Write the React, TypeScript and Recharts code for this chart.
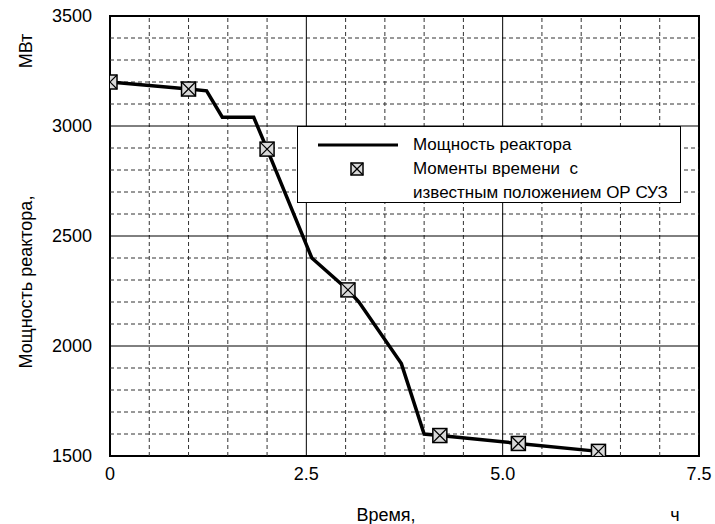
import React from 'react';
import {
  ComposedChart,
  Line,
  Scatter,
  XAxis,
  YAxis,
  ReferenceLine,
  ReferenceArea,
  Legend,
  Customized,
} from 'recharts';

// reactor power curve, time in hours / MW
const powerTime = [0, 1.0, 1.23, 1.43, 1.83, 2.0, 2.57, 3.03, 3.17, 3.71, 4.0, 4.2, 5.2, 6.22];
const powerValue = [3200, 3168, 3160, 3040, 3040, 2895, 2400, 2255, 2200, 1920, 1600, 1593, 1557, 1521];

// moments with known control rod position
const markTime = [0, 1.0, 2.0, 3.03, 4.2, 5.2, 6.22];
const markValue = [3200, 3168, 2895, 2255, 1593, 1557, 1521];

const xTicks = [0, 2.5, 5, 7.5];
const yTicks = [1500, 2000, 2500, 3000, 3500];
const xMinor = [0.5, 1, 1.5, 2, 3, 3.5, 4, 4.5, 5.5, 6, 6.5, 7];
const xMajor = [2.5, 5];
const yMinor = [1600, 1700, 1800, 1900, 2100, 2200, 2300, 2400, 2600, 2700, 2800, 2900, 3100, 3200, 3300, 3400];
const yMajor = [2000, 2500, 3000];

const FONT = '"Liberation Sans", Arial, sans-serif';

const powerData = powerTime.map((t, i) => ({ t, p: powerValue[i] }));
const markData = markTime.map((t, i) => ({ t, p: markValue[i] }));

const BoxX = ({ cx, cy, size = 14 }: { cx: number; cy: number; size?: number }) => {
  const h = size / 2;
  return (
    <g>
      <rect x={cx - h} y={cy - h} width={size} height={size} fill="#d9d9d9" stroke="#000" strokeWidth={1.5} />
      <line x1={cx - h} y1={cy - h} x2={cx + h} y2={cy + h} stroke="#000" strokeWidth={1.2} />
      <line x1={cx - h} y1={cy + h} x2={cx + h} y2={cy - h} stroke="#000" strokeWidth={1.2} />
    </g>
  );
};

const LegendBox = () => (
  <div
    style={{
      width: 384,
      height: 77,
      boxSizing: 'border-box',
      border: '1.5px solid #000',
      background: '#fff',
      position: 'relative',
      fontFamily: FONT,
      fontSize: 17,
      color: '#000',
    }}
  >
    <svg width={384} height={77} style={{ position: 'absolute', left: -1.5, top: -1.5 }}>
      <line x1={21} y1={19} x2={101} y2={19} stroke="#000" strokeWidth={3} />
      <BoxX cx={60} cy={43} size={12} />
    </svg>
    <div style={{ position: 'absolute', left: 115, top: 6, lineHeight: '24px', whiteSpace: 'pre' }}>
      <div>Мощность реактора</div>
      <div>Моменты времени  с</div>
      <div>известным положением ОР СУЗ</div>
    </div>
  </div>
);

const AxisTitles = () => (
  <g fontFamily={FONT} fontSize={18} fill="#000">
    <text x={386} y={521} textAnchor="middle">Время,</text>
    <text x={675} y={521} textAnchor="middle">ч</text>
    <text x={32} y={282} textAnchor="middle" transform="rotate(-90, 32, 282)">Мощность реактора,</text>
    <text x={32} y={51} textAnchor="middle" transform="rotate(-90, 32, 51)">МВт</text>
  </g>
);

const fmtX = (v: number) => (v === 0 ? '0' : v.toFixed(1));

export default function App() {
  return (
    <div style={{ position: 'absolute', left: 0, top: 0, width: 715, height: 524, background: '#fff' }}>
      <ComposedChart width={715} height={524} margin={{ top: 16, right: 16, bottom: 38, left: 0 }}>
        <XAxis
          type="number"
          dataKey="t"
          domain={[0, 7.5]}
          ticks={xTicks}
          tickFormatter={fmtX}
          height={30}
          tickLine={false}
          tickSize={0}
          tickMargin={11}
          axisLine={false}
          tick={{ fill: '#000', fontSize: 18, fontFamily: FONT }}
          allowDataOverflow
        />
        <YAxis
          type="number"
          dataKey="p"
          domain={[1500, 3500]}
          ticks={yTicks}
          width={110}
          tickLine={false}
          tickSize={0}
          tickMargin={18}
          axisLine={false}
          tick={{ fill: '#000', fontSize: 18, fontFamily: FONT }}
          allowDataOverflow
        />
        {xMinor.map((v) => (
          <ReferenceLine key={'xm' + v} x={v} stroke="#333" strokeWidth={1} strokeDasharray="4 3" />
        ))}
        {yMinor.map((v) => (
          <ReferenceLine key={'ym' + v} y={v} stroke="#333" strokeWidth={1} strokeDasharray="4 3" />
        ))}
        {xMajor.map((v) => (
          <ReferenceLine key={'xM' + v} x={v} stroke="#000" strokeWidth={1} />
        ))}
        {yMajor.map((v) => (
          <ReferenceLine key={'yM' + v} y={v} stroke="#000" strokeWidth={1} />
        ))}
        <ReferenceArea x1={0} x2={7.5} y1={1500} y2={3500} fill="none" stroke="#000" strokeWidth={2} />
        <Line
          data={powerData}
          dataKey="p"
          type="linear"
          stroke="#000"
          strokeWidth={3.5}
          dot={false}
          isAnimationActive={false}
        />
        <Scatter
          data={markData}
          dataKey="p"
          shape={(props: any) => <BoxX cx={props.cx} cy={props.cy} />}
          isAnimationActive={false}
        />
        <Legend
          layout="vertical"
          align="center"
          verticalAlign="middle"
          content={() => <LegendBox />}
          wrapperStyle={{ left: 297, top: 126, width: 384, height: 77 }}
        />
        <Customized component={AxisTitles} />
      </ComposedChart>
    </div>
  );
}
